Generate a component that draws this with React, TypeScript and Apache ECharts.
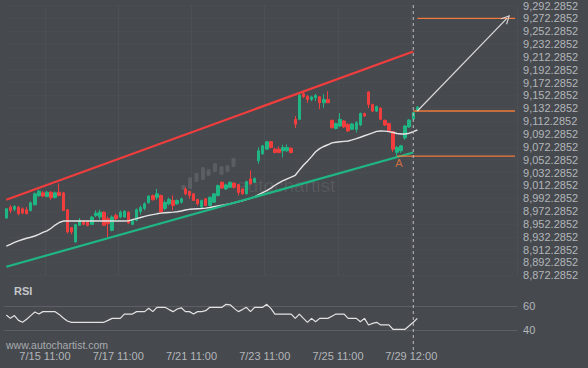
import React, { useEffect, useRef } from 'react';
import * as echarts from 'echarts';

// ---- data ----
const candleOpen = [
  8961.4, 8978.4, 8975.3, 8978.4, 8975.9, 8974.4, 8973.3, 8982.1, 8996.3, 9000.6,
  8994.9, 9001.6, 8993.2, 9001.6, 9000.6, 8974.4, 8946.5, 8924.3, 8950.1, 8956.2,
  8955.2, 8951.6, 8965.5, 8962.9, 8970.6, 8960.4, 8942.3, 8965.5, 8962.9, 8962.9,
  8970.6, 8951.6, 8957.8, 8971.7, 8976.4, 8985.2, 8996.5, 8993.8, 8996.5, 8976.4,
  8983.6, 8988.7, 8983.6, 8986.1, 9006.5, 9003.0, 8999.1, 8990.3, 8978.4, 8991.4,
  8981.0, 8986.1, 8996.5, 9017.1, 9006.8, 9009.3, 9015.8, 9013.5, 9006.8, 8999.1,
  9022.3, 9017.1, 9050.6, 9061.4, 9068.7, 9080.4, 9068.7, 9068.7, 9066.1, 9066.1,
  9070.2, 9115.1, 9115.1, 9155.0, 9151.1, 9146.0, 9148.5, 9150.3, 9140.8, 9146.0,
  9113.5, 9100.9, 9104.7, 9112.5, 9107.4, 9099.6, 9099.6, 9106.3, 9124.1, 9157.8,
  9138.3, 9127.9, 9132.6, 9113.5, 9108.6, 9096.2, 9063.7, 9066.1, 9086.2, 9103.2,
  9115.5, 9127.9,
];
const candleClose = [
  8975.9, 8973.3, 8979.5, 8968.2, 8969.1, 8968.2, 8985.2, 8999.1, 9003.3, 8995.7,
  9001.6, 8993.2, 9000.6, 8996.5, 8973.3, 8939.7, 8939.7, 8951.2, 8957.8, 8951.6,
  8950.1, 8962.9, 8969.1, 8970.6, 8950.1, 8952.7, 8962.9, 8960.4, 8970.6, 8972.2,
  8953.6, 8957.8, 8974.4, 8977.9, 8983.6, 8995.7, 8989.8, 8999.1, 8970.6, 8985.7,
  8990.3, 8981.0, 8988.7, 8991.4, 8999.1, 8996.5, 8988.7, 8983.6, 8988.7, 8981.0,
  8993.8, 8999.1, 9011.9, 9008.1, 9013.0, 9017.1, 9009.3, 9001.1, 8999.1, 9018.1,
  9014.6, 9022.8, 9066.1, 9073.8, 9080.0, 9071.2, 9063.5, 9063.5, 9071.2, 9071.2,
  9063.4, 9107.4, 9152.7, 9150.3, 9146.0, 9150.0, 9152.2, 9140.8, 9146.0, 9140.8,
  9102.1, 9108.6, 9115.1, 9103.2, 9097.0, 9107.8, 9109.8, 9124.1, 9120.2, 9138.3,
  9127.9, 9134.9, 9115.1, 9106.3, 9097.0, 9068.7, 9071.2, 9073.8, 9104.7, 9114.0,
  9125.6, 9134.1,
];
const candleLow = [
  8960.9, 8969.1, 8972.2, 8965.5, 8967.1, 8967.1, 8971.7, 8981.0, 8994.1, 8993.7,
  8993.7, 8989.8, 8992.1, 8994.9, 8972.2, 8937.4, 8936.2, 8923.0, 8949.6, 8950.1,
  8948.5, 8950.9, 8962.9, 8958.9, 8949.3, 8931.5, 8940.8, 8957.8, 8960.9, 8961.7,
  8952.4, 8950.1, 8956.3, 8967.1, 8973.3, 8984.1, 8988.7, 8989.8, 8969.7, 8973.3,
  8981.0, 8973.3, 8981.8, 8984.1, 8996.5, 8991.4, 8988.0, 8981.0, 8977.1, 8979.5,
  8979.5, 8984.9, 8994.9, 9006.8, 9005.0, 9008.1, 9007.3, 8996.5, 8998.0, 8998.0,
  9013.5, 9015.8, 9046.0, 9059.9, 9067.6, 9069.9, 9062.2, 9062.4, 9055.7, 9064.5,
  9062.2, 9101.6, 9114.0, 9148.0, 9140.8, 9143.4, 9143.4, 9131.0, 9133.0, 9140.3,
  9100.9, 9099.3, 9103.2, 9101.6, 9095.4, 9098.5, 9094.4, 9104.7, 9118.7, 9132.6,
  9126.4, 9126.4, 9114.0, 9104.7, 9095.4, 9064.5, 9058.3, 9063.0, 9083.2, 9101.6,
  9114.0, 9126.4,
];
const candleHigh = [
  8976.4, 8981.5, 8981.5, 8980.5, 8977.9, 8978.4, 8987.1, 9001.1, 9005.4, 9003.3,
  9003.6, 9003.3, 9002.7, 9015.6, 9001.9, 8975.6, 8947.5, 8952.4, 8961.4, 8957.8,
  8957.0, 8964.8, 8973.3, 8974.4, 8971.7, 8964.0, 8965.5, 8968.6, 8973.3, 8973.5,
  8971.7, 8959.4, 8976.4, 8981.0, 8986.1, 8996.5, 8998.0, 9006.8, 8998.0, 8988.7,
  8993.2, 8996.5, 8990.3, 8993.4, 9009.3, 9004.2, 9000.6, 8991.4, 8990.3, 8992.6,
  8994.9, 9000.3, 9013.5, 9018.6, 9015.0, 9018.1, 9017.1, 9014.6, 9008.1, 9019.7,
  9035.9, 9024.8, 9071.5, 9075.3, 9081.5, 9081.5, 9070.7, 9072.9, 9075.6, 9076.1,
  9071.5, 9120.2, 9154.2, 9158.1, 9152.7, 9151.9, 9154.7, 9151.1, 9154.2, 9158.9,
  9114.8, 9110.1, 9124.8, 9114.0, 9108.6, 9109.4, 9112.5, 9125.6, 9125.6, 9158.9,
  9139.5, 9136.4, 9134.1, 9114.8, 9109.8, 9097.0, 9073.8, 9075.3, 9106.3, 9115.5,
  9127.1, 9135.6,
];
const movingAverage = [
  8917.6, 8920.5, 8923.5, 8926.0, 8928.0, 8930.0, 8931.5, 8933.5, 8936.0, 8939.0,
  8941.5, 8945.5, 8950.5, 8954.5, 8956.7, 8956.7, 8956.7, 8956.7, 8956.7, 8956.7,
  8956.7, 8956.7, 8956.7, 8956.7, 8956.7, 8956.7, 8956.7, 8956.7, 8956.7, 8956.7,
  8957.0, 8958.9, 8960.5, 8962.3, 8964.0, 8965.5, 8966.8, 8968.0, 8969.1, 8969.6,
  8970.1, 8970.6, 8971.2, 8972.3, 8973.9, 8975.0, 8975.4, 8975.8, 8976.2, 8976.8,
  8977.8, 8979.0, 8980.2, 8981.4, 8982.6, 8983.6, 8985.2, 8986.8, 8988.4, 8990.2,
  8992.0, 8994.5, 8997.8, 9001.0, 9004.2, 9008.0, 9012.5, 9016.3, 9019.5, 9022.5,
  9025.0, 9028.0, 9036.0, 9043.5, 9050.0, 9057.0, 9064.5, 9069.5, 9072.8, 9075.5,
  9078.5, 9079.5, 9080.2, 9080.8, 9081.4, 9083.0, 9085.0, 9087.2, 9089.5, 9091.8,
  9094.0, 9096.3, 9097.0, 9096.8, 9096.0, 9094.5, 9093.0, 9092.3, 9092.3, 9093.5,
  9095.8, 9098.5,
];
const rsiValues = [
  52.5, 49.7, 52.0, 48.0, 46.4, 49.0, 52.0, 55.0, 53.3, 55.3,
  55.3, 55.3, 55.3, 53.0, 50.0, 47.5, 46.4, 46.4, 46.4, 46.4,
  46.4, 46.4, 46.4, 46.4, 46.4, 48.0, 49.7, 49.7, 49.7, 53.3,
  53.3, 53.3, 55.3, 55.3, 55.3, 58.1, 55.3, 58.9, 58.9, 58.9,
  57.0, 55.3, 57.5, 58.5, 55.3, 55.3, 53.3, 55.3, 55.3, 56.1,
  58.9, 58.9, 58.9, 58.9, 61.4, 61.0, 58.0, 55.3, 57.0, 58.9,
  55.3, 58.9, 58.9, 58.9, 61.4, 58.0, 53.3, 53.3, 53.3, 53.3,
  53.3, 49.7, 53.3, 49.7, 46.4, 49.7, 46.9, 49.7, 49.7, 49.7,
  51.5, 53.3, 53.3, 53.3, 49.7, 49.7, 49.7, 46.9, 49.7, 44.2,
  45.5, 46.4, 44.2, 44.2, 44.2, 40.6, 40.6, 40.6, 40.6, 43.5,
  46.5, 49.7,
];
// channel lines: [candle index, price]
const resistanceLine = [[0, 8989.8], [100, 9220.7]];
const supportLine = [[0, 8885.6], [100, 9063.4]];
// pattern levels
const targetLevel = [[101, 9272.3], [125, 9272.3]];
const entryLevel = [[100, 9128.0], [125, 9128.0]];
const pointALevel = [[96, 9057.8], [125, 9057.8]];
const forecastArrow = [[101, 9128.0], [123, 9272.3]];
const signalIndex = 100;

const priceTicks = [
  8872.2852, 8892.2852, 8912.2852, 8932.2852, 8952.2852, 8972.2852, 8992.2852,
  9012.2852, 9032.2852, 9052.2852, 9072.2852, 9092.2852, 9112.2852, 9132.2852,
  9152.2852, 9172.2852, 9192.2852, 9212.2852, 9232.2852, 9252.2852, 9272.2852,
  9292.2852,
];
const timeLabels = ['7/15 11:00', '7/17 11:00', '7/21 11:00', '7/23 11:00', '7/25 11:00', '7/29 12:00'];
const timeLabelSlots = [10, 28, 46, 64, 82, 100];
const SLOT_COUNT = 126;

const BG = '#46494e';
const GREEN = '#1fb684';
const RED = '#f03d3d';
const ORANGE = '#f27a3c';
const LABEL = '#b3b6ba';
const FONT = 'Liberation Sans, Arial, sans-serif';

export default function App() {
  const ref = useRef<HTMLDivElement>(null);
  useEffect(() => {
    document.body.style.margin = '0';
    const chart = echarts.init(ref.current!, null, { renderer: 'svg' });
    const slots = Array.from({ length: SLOT_COUNT }, (_, i) => String(i));
    const bounds = Array.from({ length: SLOT_COUNT + 1 }, (_, i) => String(i));
    const labelAt: Record<number, string> = {};
    timeLabelSlots.forEach((s, k) => (labelAt[s] = timeLabels[k]));
    const fmt = new Intl.NumberFormat('en-US', { minimumFractionDigits: 4, maximumFractionDigits: 4 });
    const left = 4.27;
    const width = 512.8;
    const candles = candleOpen.map((o, i) => [o, candleClose[i], candleLow[i], candleHigh[i]]);
    const chevron = 'path://M5,0 L10,10 L8.6,10 L5,2.6 L1.4,10 L0,10 Z';

    chart.setOption({
      animation: false,
      backgroundColor: BG,
      textStyle: { fontFamily: FONT },
      grid: [
        { left, width, top: 3.7, height: 271.6 },
        { left, width, top: 306, height: 24 },
        { left, width, top: 4, height: 346 },
      ],
      xAxis: [
        {
          type: 'category', gridIndex: 0, data: slots, boundaryGap: true,
          axisLine: { show: false }, axisTick: { show: false }, axisLabel: { show: false },
          splitLine: {
            show: true,
            interval: (i: number) => timeLabelSlots.includes(i),
            lineStyle: { color: 'rgba(255,255,255,0.035)', width: 1 },
          },
        },
        { type: 'category', gridIndex: 1, data: slots, boundaryGap: true, show: false },
        {
          type: 'category', gridIndex: 1, data: bounds, boundaryGap: false, position: 'bottom',
          axisLine: { show: false }, axisTick: { show: false }, splitLine: { show: false },
          axisLabel: {
            interval: (i: number) => labelAt[i] !== undefined,
            formatter: (_v: string, i: number) => labelAt[i] ?? '',
            color: LABEL, fontSize: 11, margin: 20, fontFamily: FONT,
          },
        },
        { type: 'category', gridIndex: 2, data: slots, boundaryGap: true, show: false },
      ],
      yAxis: [
        {
          type: 'value', gridIndex: 0, position: 'right',
          min: priceTicks[0], max: priceTicks[priceTicks.length - 1],
          axisLine: { show: false },
          axisTick: { show: false, customValues: priceTicks },
          axisLabel: {
            customValues: priceTicks,
            formatter: (v: number) => fmt.format(v),
            color: LABEL, fontSize: 11, margin: 6, fontFamily: FONT,
          },
          splitLine: { show: true, lineStyle: { color: 'rgba(255,255,255,0.02)' } },
        },
        {
          type: 'value', gridIndex: 1, position: 'right', min: 40, max: 60, interval: 20,
          axisLine: { show: false }, axisTick: { show: false },
          axisLabel: { color: LABEL, fontSize: 11, margin: 6, fontFamily: FONT },
          splitLine: { show: true, lineStyle: { color: '#5c6065', width: 1 } },
        },
        { type: 'value', gridIndex: 2, min: 0, max: 1, show: false },
      ],
      graphic: [
        ...[
          [183.5, 185, 5], [190, 177, 12], [196.5, 173, 9], [203, 167, 13], [208.5, 169, 7],
          [215, 163, 9], [221.5, 166, 9], [227.5, 165, 7], [233.5, 158, 9],
        ].map(([x, y, h]) => ({
          type: 'rect', silent: true, z: 0,
          shape: { x: x - 2, y, width: 4, height: h, r: 1.5 },
          style: { fill: 'rgba(255,255,255,0.11)' },
        })),
        {
          type: 'text', silent: true, z: 0, x: 237, y: 185,
          style: {
            text: 'autochartist', fill: 'rgba(255,255,255,0.09)',
            font: '300 19px ' + FONT, textVerticalAlign: 'middle',
          },
        },
        {
          type: 'text', silent: true, x: 14, y: 291,
          style: { text: 'RSI', fill: '#c4c7ca', font: 'bold 11px ' + FONT, textVerticalAlign: 'middle' },
        },
        {
          type: 'text', silent: true, x: 6, y: 345,
          style: { text: 'www.autochartist.com', fill: '#a8abaf', font: '10.5px ' + FONT, textVerticalAlign: 'middle' },
        },
      ],
      series: [
        {
          type: 'candlestick', xAxisIndex: 0, yAxisIndex: 0, data: candles, barWidth: 3,
          itemStyle: { color: GREEN, color0: RED, borderColor: GREEN, borderColor0: RED, borderWidth: 1 },
        },
        {
          type: 'line', xAxisIndex: 0, yAxisIndex: 0, data: movingAverage, symbol: 'none',
          lineStyle: { color: '#e4e4e4', width: 1.4 }, z: 3,
        },
        {
          type: 'line', xAxisIndex: 0, yAxisIndex: 0, data: resistanceLine, symbol: 'none',
          lineStyle: { color: RED, width: 2.2 }, z: 4,
        },
        {
          type: 'line', xAxisIndex: 0, yAxisIndex: 0, data: supportLine, symbol: 'none',
          lineStyle: { color: GREEN, width: 2.2 }, z: 4,
        },
        {
          type: 'line', xAxisIndex: 0, yAxisIndex: 0, data: targetLevel, symbol: 'none',
          lineStyle: { color: ORANGE, width: 1.4 }, z: 4,
          markLine: {
            silent: true, symbol: ['none', chevron], symbolSize: [9, 9],
            label: { show: false },
            lineStyle: { color: '#dadada', width: 1.2, type: 'solid' },
            data: [[{ coord: forecastArrow[0] }, { coord: forecastArrow[1] }]],
          },
        },
        {
          type: 'line', xAxisIndex: 0, yAxisIndex: 0, data: entryLevel, symbol: 'none',
          lineStyle: { color: ORANGE, width: 1.4 }, z: 4,
        },
        {
          type: 'line', xAxisIndex: 0, yAxisIndex: 0, data: pointALevel, symbol: 'none',
          lineStyle: { color: ORANGE, width: 1.4 }, z: 4,
        },
        {
          type: 'scatter', xAxisIndex: 0, yAxisIndex: 0, data: [pointALevel[0]], symbolSize: 0, z: 5,
          label: {
            show: true, formatter: 'A', position: 'bottom', distance: 1, offset: [2, 0],
            color: ORANGE, fontSize: 11, fontFamily: FONT,
          },
        },
        {
          type: 'line', xAxisIndex: 1, yAxisIndex: 1, data: rsiValues, symbol: 'none', clip: false,
          lineStyle: { color: '#e2e2e2', width: 1.2 },
        },
        {
          type: 'line', xAxisIndex: 3, yAxisIndex: 2, data: [[signalIndex, 0], [signalIndex, 1]],
          symbol: 'none', z: 6,
          lineStyle: { color: '#bdbdbd', width: 1, type: [3, 3] },
        },
      ],
    });
    return () => chart.dispose();
  }, []);
  return <div ref={ref} style={{ width: 588, height: 368 }} />;
}
